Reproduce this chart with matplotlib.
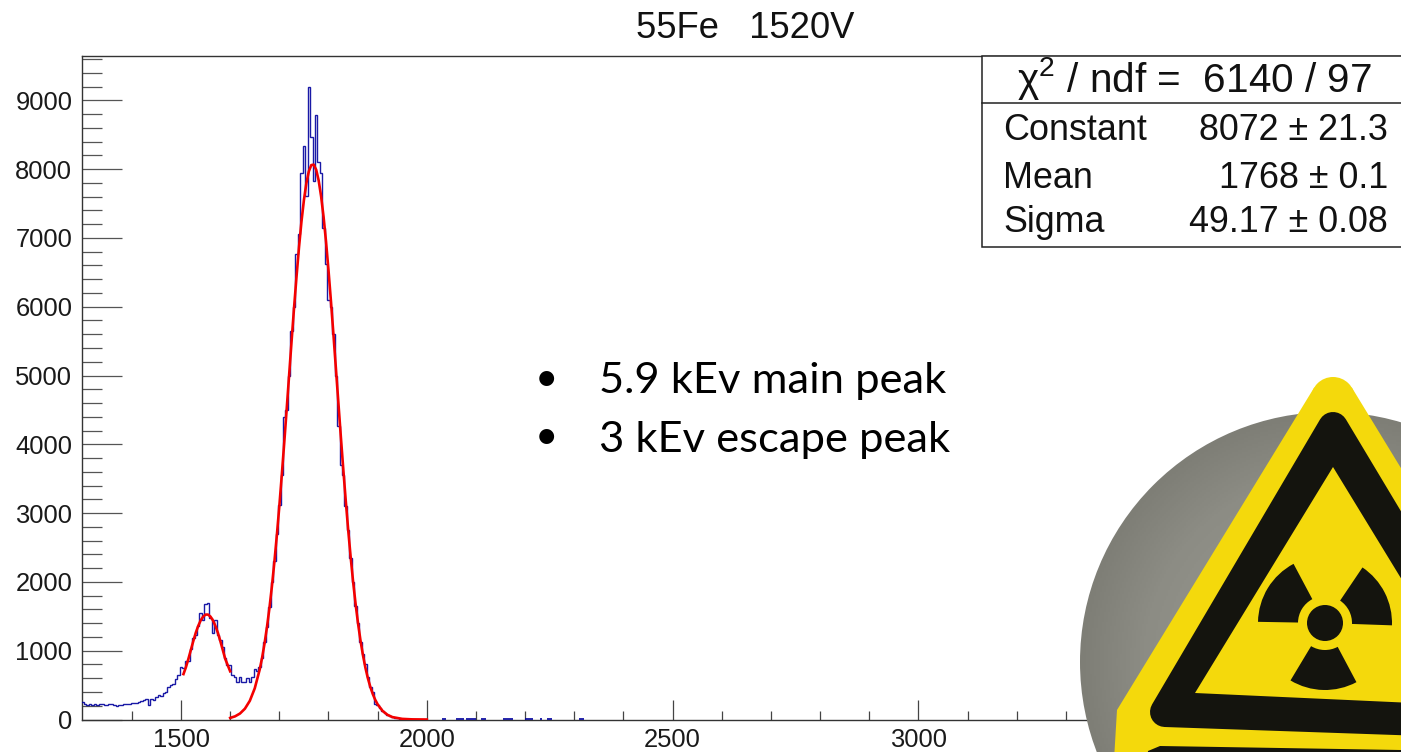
import numpy as np
import matplotlib
matplotlib.use("Agg")
import matplotlib.pyplot as plt
from matplotlib.patches import Circle, Polygon, Wedge, Rectangle
from matplotlib.colors import LinearSegmentedColormap

plt.rcParams['font.family'] = ['Liberation Sans', 'DejaVu Sans']
plt.rcParams['mathtext.fontset'] = 'custom'
plt.rcParams['mathtext.rm'] = 'Liberation Sans'
plt.rcParams['mathtext.it'] = 'Liberation Sans:italic'

# ---------- data ----------
bin_start = 1297.5
bin_width = 5
counts_1300 = [250, 225, 215, 220, 215, 225, 215, 220, 225, 215, 215, 220, 220, 205, 195, 215, 215, 225, 220, 220]
counts_1400 = [235, 240, 245, 255, 270, 285, 300, 215, 300, 290, 320, 350, 340, 380, 400, 470, 500, 510, 590, 640]
counts_1500 = [760, 750, 850, 850, 1030, 1180, 1225, 1355, 1550, 1440, 1680, 1690, 1480, 1260, 1450, 1225, 1150, 1050, 900, 790]
counts_1600 = [790, 640, 620, 550, 620, 550, 540, 610, 550, 620, 740, 700, 760, 900, 1130, 1350, 1640, 2000, 2300, 2700]
counts_1700 = [3120, 3550, 4400, 4500, 5000, 5650, 6000, 6770, 7060, 7940, 8330, 7610, 9190, 8460, 7830, 8780, 8100, 7940, 7150, 6620]
counts_1800 = [6100, 5990, 5600, 5000, 4270, 3700, 3550, 3100, 2750, 2350, 2000, 1650, 1400, 1130, 950, 800, 620, 470, 400, 232]
counts_1900 = [210, 170, 120, 90, 70, 50, 30, 25, 15, 10, 8, 5, 3, 2, 1, 0, 0, 0, 0, 0]
tail_bin_start = [2030, 2035, 2060, 2065, 2070, 2080, 2085, 2090, 2095, 2110, 2115, 2155, 2160, 2165, 2170,
                  2200, 2205, 2210, 2230, 2245, 2250, 2310, 2315]
tail_counts = [12, 12, 10, 10, 10, 14, 14, 14, 14, 12, 12, 10, 14, 14, 10, 14, 10, 10, 12, 10, 12, 14, 12]

esc_x = [1505, 1510, 1515, 1520, 1525, 1530, 1535, 1540, 1545, 1550, 1555, 1560, 1565, 1570, 1575, 1580, 1585, 1590, 1595, 1600]
esc_y = [660, 760, 880, 1010, 1140, 1260, 1360, 1440, 1495, 1525, 1525, 1495, 1440, 1360, 1260, 1140, 1010, 880, 790, 700]
main_x = [1600, 1610, 1620, 1630, 1640, 1650, 1660, 1665, 1670, 1675, 1680, 1685, 1690, 1695, 1700, 1705, 1710, 1715, 1720,
          1725, 1730, 1735, 1740, 1745, 1750, 1755, 1760, 1765, 1770, 1775, 1780, 1785, 1790, 1795, 1800, 1805, 1810, 1815,
          1820, 1825, 1830, 1835, 1840, 1845, 1850, 1855, 1860, 1865, 1870, 1875, 1880, 1885, 1890, 1895, 1900, 1910, 1920,
          1930, 1950, 1970, 2000]
main_y = [23, 46, 87, 157, 272, 453, 724, 899, 1108, 1350, 1626, 1941, 2294, 2680, 3100, 3552, 4025, 4515, 5012,
          5508, 5988, 6440, 6862, 7236, 7549, 7795, 7967, 8058, 8065, 7990, 7835, 7604, 7305, 6945, 6530, 6080, 5603, 5110,
          4615, 4122, 3646, 3190, 2763, 2369, 2008, 1687, 1403, 1153, 939, 756, 603, 476, 372, 287, 220, 125, 68,
          35, 9, 2, 0]
x_major = [1500, 2000, 2500, 3000, 3500]
x_minor = [1400, 1500, 1600, 1700, 1800, 1900, 2100, 2200, 2300, 2400, 2600, 2700, 2800, 2900, 3100, 3200, 3300, 3400]
y_major = [0, 1000, 2000, 3000, 4000, 5000, 6000, 7000, 8000, 9000]
y_minor = [200, 400, 600, 800, 1200, 1400, 1600, 1800, 2200, 2400, 2600, 2800, 3200, 3400, 3600, 3800,
           4200, 4400, 4600, 4800, 5200, 5400, 5600, 5800, 6200, 6400, 6600, 6800, 7200, 7400, 7600, 7800,
           8200, 8400, 8600, 8800, 9200, 9400, 9600]
title = "55Fe   1520V"
bullets = ["5.9 kEv main peak", "3 kEv escape peak"]
stat_names = ["Constant", "Mean", "Sigma"]
stat_values = ["8072 ± 21.3", "1768 ± 0.1", "49.17 ± 0.08"]
stat_header = "χ$^2$ / ndf =  6140 / 97"

W, H = 1401, 752
fig = plt.figure(figsize=(W / 100, H / 100), dpi=100)
ax = fig.add_axes([82 / W, 1 - 719.5 / H, (W - 82) / W, (719.5 - 56) / H])
ax.set_xlim(1298.6, 1298.6 + (W - 82) / 0.4916)
ax.set_ylim(0, (719.5 - 56) / 0.0688)

counts = counts_1300 + counts_1400 + counts_1500 + counts_1600 + counts_1700 + counts_1800 + counts_1900
edges = bin_start + bin_width * np.arange(len(counts) + 1)
ax.stairs(counts, edges, color='#00009c', lw=1.0, alpha=0.9, baseline=None, zorder=3)
for s, c in zip(tail_bin_start, tail_counts):
    ax.plot([s, s + bin_width], [c, c], color='#00009c', lw=1.2, solid_capstyle='butt', zorder=3)
ax.plot(esc_x, esc_y, color='#f40000', lw=1.9, zorder=4)
ax.plot(main_x, main_y, color='#f40000', lw=1.9, zorder=4)

ax.spines['right'].set_visible(False)
for s in ('left', 'bottom', 'top'):
    ax.spines[s].set_linewidth(1.0)
    ax.spines[s].set_color('#333333')
ax.set_xticks(x_major)
ax.set_xticks(x_minor, minor=True)
ax.set_yticks(y_major)
ax.set_yticks(y_minor, minor=True)
ax.tick_params(axis='x', which='major', direction='in', length=14.4, width=0.9, color='#444444', labelsize=18.4, pad=6)
ax.tick_params(axis='x', which='minor', direction='in', length=6.5, width=0.9, color='#444444')
ax.tick_params(axis='y', which='major', direction='in', length=29, width=0.9, color='#555555', labelsize=18.4, pad=7)
ax.tick_params(axis='y', which='minor', direction='in', length=14.4, width=0.9, color='#555555')
for t in ax.get_xticklabels() + ax.get_yticklabels():
    t.set_color('#1a1a1a')

# overlay in pixel coordinates for the pasted decorations
ov = fig.add_axes([0, 0, 1, 1], facecolor='none')
ov.set_xlim(0, W)
ov.set_ylim(H, 0)
ov.axis('off')
ov.set_zorder(5)

ov.text(745, 29, title, fontsize=26.2, ha='center', va='center', color='#111111')

# stat box
ov.add_patch(Rectangle((982, 56), W - 982 + 5, 191, fc='white', ec='#222222', lw=1.1, zorder=2))
ov.plot([982, W], [103, 103], color='#222222', lw=1.1, zorder=3)
ov.text(1194.5, 79, stat_header, fontsize=29.2, ha='center', va='center', color='#111111', zorder=3)
for name, val, y in zip(stat_names, stat_values, (131, 178, 222)):
    ov.text(1003, y, name, fontsize=25.8, ha='left', va='center', color='#111111', zorder=3)
    ov.text(1388, y, val, fontsize=25.8, ha='right', va='center', color='#111111', zorder=3)

# bullet text
for txt, y in zip(bullets, (381, 440)):
    ov.text(546, y - 2, "•", fontsize=29, family=['Lato', 'DejaVu Sans'], ha='center', va='center', color='black')
    ov.text(599, y, txt, fontsize=31.3, family=['Lato', 'DejaVu Sans'], ha='left', va='center', color='black')

# photo of the radiation source: grey disc with warning sign
YEL = '#f4d90c'
BLK = '#14140e'
gx, gy = np.meshgrid(np.linspace(1070, 1590, 260), np.linspace(400, 920, 260))
shade = np.hypot(gx - 1330, gy - 662) / 250
img = ov.imshow(shade, extent=(1070, 1590, 920, 400),
                cmap=LinearSegmentedColormap.from_list('disc', ['#9a9a92', '#96968e', '#92928a', '#8c8c84', '#7e7e76']),
                vmin=0, vmax=1, aspect='auto', zorder=6)
img.set_clip_path(Circle((1330, 662), 250, transform=ov.transData))
ov.set_xlim(0, W)
ov.set_ylim(H, 0)

ov.add_patch(Circle((1333, 399), 22, fc=YEL, ec='none', zorder=7))
ov.add_patch(Polygon([(1314.2, 387.5), (1351.8, 387.5), (1579, 760), (1114, 760), (1117, 710)],
                     closed=True, fc=YEL, ec='none', zorder=7))
ov.add_patch(Polygon([(1333, 427), (1511, 724), (1165, 712)],
                     closed=True, fc=BLK, ec=BLK, lw=21.6, joinstyle='round', zorder=8))
ov.add_patch(Polygon([(1333, 467), (1479, 706), (1195, 693)],
                     closed=True, fc=YEL, ec='none', zorder=9))
ov.add_patch(Polygon([(1147, 760), (1148, 751), (1160, 746), (1401, 750), (1401, 760)],
                     closed=True, fc=BLK, ec='none', zorder=9))
c = (1325, 623)
ov.add_patch(Circle(c, 18, fc=BLK, ec='none', zorder=10))
for a1, a2 in ((-179, -118), (-56, 2), (62, 121)):
    ov.add_patch(Wedge(c, 67, a1, a2, width=40, fc=BLK, ec='none', zorder=10))

fig.savefig('out.png', dpi=100)
